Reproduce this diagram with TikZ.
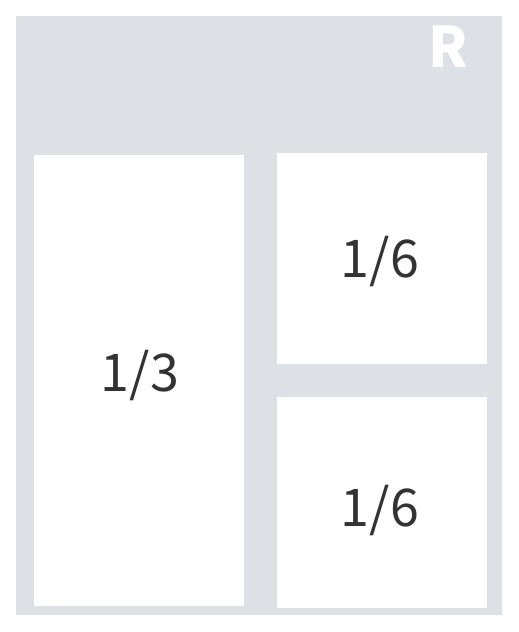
\documentclass[tikz,border=0pt]{standalone}
\usepackage{fontspec}
\setmainfont{Noto Sans CJK SC}
\definecolor{bggray}{RGB}{221,224,229}
\definecolor{txt}{RGB}{51,51,51}
\begin{document}
\begin{tikzpicture}[x=1pt,y=-1pt,
  panel/.style={fill=white,draw=none},
  lbl/.style={text=txt,font=\fontsize{52}{60}\selectfont,inner sep=0pt}]
\useasboundingbox (0,0) rectangle (519,632);
\fill[white] (0,0) rectangle (519,632);
\fill[bggray] (16,16) rectangle (502,615);
\fill[panel] (34,155) rectangle (244,606);
\fill[panel] (277,153) rectangle (487,364);
\fill[panel] (277,397) rectangle (487,608);
\node[lbl] (a) at (140,376) {1/3};
\node[lbl] (b) at (380,262) {1/6};
\node[lbl] (c) at (380,511) {1/6};
\node[text=white,font=\fontsize{56}{60}\selectfont\bfseries,inner sep=0pt] (r) at (448,47) {R};
\end{tikzpicture}
\end{document}
